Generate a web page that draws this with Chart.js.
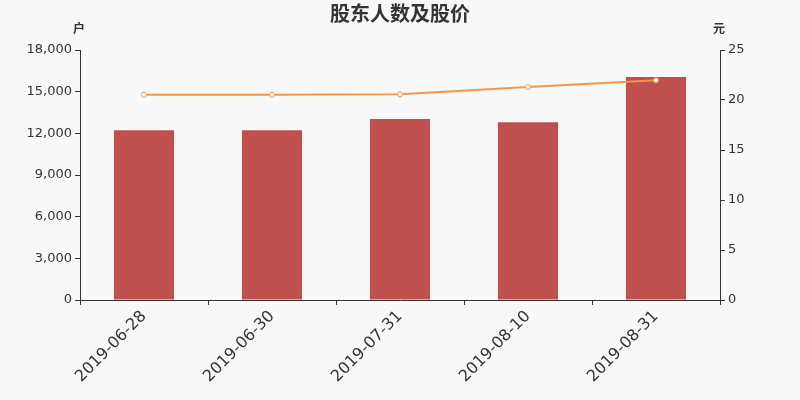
<!DOCTYPE html>
<html lang="zh">
<head>
    <meta charset="UTF-8">
    <title>股东人数及股价</title>
    <script src="https://cdn.jsdelivr.net/npm/chart.js"></script>
    <style>
        body {
            margin: 0;
            background-color: #f8f8f8;
        }
        .chart-box {
            width: 800px;
            height: 400px;
        }
    </style>
</head>
<body>
    <div class="chart-box">
        <canvas id="holders-chart" width="800" height="400"></canvas>
    </div>
    <script>
        // data
        const dates = ['2019-06-28', '2019-06-30', '2019-07-31', '2019-08-10', '2019-08-31'];
        const holders = [12230, 12230, 13030, 12790, 16060];
        const prices = [20.53, 20.53, 20.57, 21.3, 21.97];

        const textColor = '#333333';
        const font = "'DejaVu Sans', sans-serif";

        // title and unit labels
        const labelsPlugin = {
            id: 'labels',
            afterDraw(chart) {
                const ctx = chart.ctx;
                ctx.save();
                ctx.fillStyle = textColor;
                ctx.textAlign = 'center';
                ctx.textBaseline = 'middle';
                ctx.font = "bold 20px 'Noto Sans CJK SC', sans-serif";
                ctx.fillText('股东人数及股价', 400, 13);
                ctx.font = "bold 12px 'Noto Sans CJK SC', sans-serif";
                ctx.fillText('户', 79, 28);
                ctx.fillText('元', 719, 28);
                ctx.restore();
            }
        };

        const ctx = document.getElementById('holders-chart').getContext('2d');
        new Chart(ctx, {
            data: {
                labels: dates,
                datasets: [{
                    type: 'line',
                    label: '股价',
                    data: prices,
                    yAxisID: 'y1',
                    borderColor: '#f79646',
                    borderWidth: 2,
                    pointRadius: 2.5,
                    pointBackgroundColor: '#ffffff',
                    pointBorderColor: '#f79646',
                    pointBorderWidth: 1,
                    tension: 0,
                    order: 0
                }, {
                    type: 'bar',
                    label: '股东人数',
                    data: holders,
                    yAxisID: 'y',
                    backgroundColor: '#c0504d',
                    categoryPercentage: 1,
                    barPercentage: 0.47,
                    order: 1
                }]
            },
            options: {
                responsive: false,
                animation: false,
                devicePixelRatio: 1,
                layout: { padding: { top: 50, left: 0, right: 0, bottom: 0 } },
                plugins: {
                    legend: { display: false },
                    tooltip: { enabled: false }
                },
                scales: {
                    x: {
                        afterFit(axis) { axis.height = 100; },
                        grid: {
                            offset: true,
                            drawOnChartArea: false,
                            tickLength: 5,
                            color: textColor
                        },
                        border: { color: textColor, width: 1 },
                        ticks: {
                            color: textColor,
                            font: { family: font, size: 16 },
                            minRotation: 45,
                            maxRotation: 45,
                            autoSkip: false,
                            padding: 2
                        }
                    },
                    y: {
                        position: 'left',
                        min: 0,
                        max: 18000,
                        afterFit(axis) { axis.width = 80; },
                        grid: {
                            drawOnChartArea: false,
                            tickLength: 5,
                            color: textColor
                        },
                        border: { color: textColor, width: 1 },
                        ticks: {
                            stepSize: 3000,
                            color: textColor,
                            font: { family: font, size: 13 },
                            padding: 3
                        }
                    },
                    y1: {
                        position: 'right',
                        min: 0,
                        max: 25,
                        afterFit(axis) { axis.width = 80; },
                        grid: {
                            drawOnChartArea: false,
                            tickLength: 5,
                            color: textColor
                        },
                        border: { color: textColor, width: 1 },
                        ticks: {
                            stepSize: 5,
                            color: textColor,
                            font: { family: font, size: 13 },
                            padding: 3
                        }
                    }
                }
            },
            plugins: [labelsPlugin]
        });
    </script>
</body>
</html>
